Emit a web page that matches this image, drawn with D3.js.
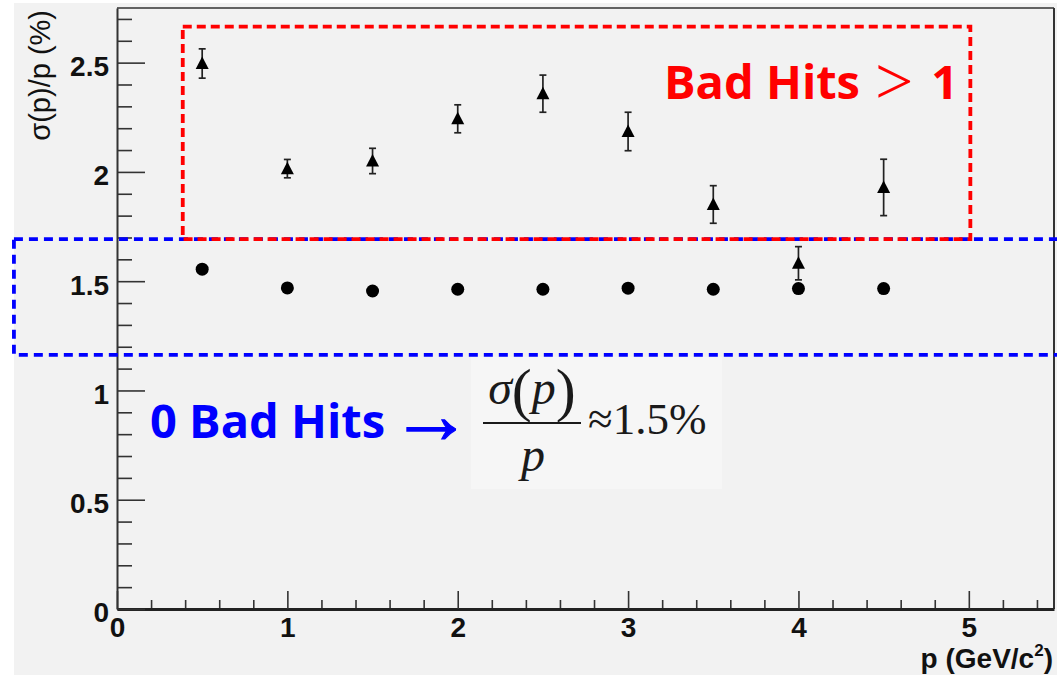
<!DOCTYPE html>
<html>
<head>
<meta charset="utf-8">
<script src="https://cdn.jsdelivr.net/npm/d3@7"></script>
<style>
  body { margin: 0; background: #ffffff; }
  svg { display: block; }
</style>
</head>
<body>
<svg id="chart" width="1057" height="675"></svg>
<script>
// Momentum bins (GeV/c^2)
const momentum = [0.5, 1.0, 1.5, 2.0, 2.5, 3.0, 3.5, 4.0, 4.5];
// Relative momentum resolution sigma(p)/p in %, tracks with 0 bad hits
const resolutionNoBadHits = [1.555, 1.469, 1.455, 1.463, 1.463, 1.468, 1.463, 1.466, 1.466];
// Relative momentum resolution sigma(p)/p in %, tracks with more than 1 bad hit
const resolutionBadHits = [2.496, 2.015, 2.050, 2.243, 2.358, 2.185, 1.851, 1.582, 1.929];
const resolutionBadHitsErr = [0.067, 0.042, 0.058, 0.064, 0.085, 0.088, 0.086, 0.076, 0.129];
// Axis tick labels
const xTickLabels = ["0", "1", "2", "3", "4", "5"];
const yTickLabels = ["0", "0.5", "1", "1.5", "2", "2.5"];

const svg = d3.select("#chart");
const W = 1057, H = 675;

const x = d3.scaleLinear().domain([0, 5.5]).range([117, 1054]);
const y = d3.scaleLinear().domain([0, 2.75]).range([609, 8]);

const axisFont = "'Liberation Sans', Arial, Helvetica, sans-serif";
const slideFont = "'Open Sans', 'DejaVu Sans', sans-serif";
const mathFont = "'Liberation Serif', 'Times New Roman', serif";

// Canvas background
svg.append("rect").attr("x", 14).attr("y", 3).attr("width", W - 14).attr("height", H - 3)
  .attr("fill", "#f2f2f2");

// Panel frame (top and right edges)
svg.append("line").attr("x1", x(0)).attr("x2", x(5.5)).attr("y1", y(2.75)).attr("y2", y(2.75))
  .attr("stroke", "#333").attr("stroke-width", 1.5);
svg.append("line").attr("x1", x(5.5)).attr("x2", x(5.5)).attr("y1", y(2.75)).attr("y2", y(0))
  .attr("stroke", "#333").attr("stroke-width", 2);

// Minor ticks
const xMinor = d3.range(0, 5.5, 0.2).filter(v => Math.abs(v - Math.round(v)) > 1e-6);
const yMinor = d3.range(0, 2.75, 0.1).filter(v => Math.abs(v * 2 - Math.round(v * 2)) > 1e-6);

svg.append("g").attr("transform", `translate(0,${y(0)})`)
  .call(d3.axisBottom(x).tickValues(xMinor).tickSizeInner(-9).tickSizeOuter(0).tickFormat(""))
  .call(g => g.select(".domain").remove())
  .call(g => g.selectAll("line").attr("stroke", "#333").attr("stroke-width", 1.6));

svg.append("g").attr("transform", `translate(${x(0)},0)`)
  .call(d3.axisLeft(y).tickValues(yMinor).tickSizeInner(-15).tickSizeOuter(0).tickFormat(""))
  .call(g => g.select(".domain").remove())
  .call(g => g.selectAll("line").attr("stroke", "#333").attr("stroke-width", 1.6));

// Major x axis
svg.append("g").attr("transform", `translate(0,${y(0)})`)
  .call(d3.axisBottom(x).tickValues(xTickLabels.map(Number)).tickSizeInner(-18).tickSizeOuter(0)
    .tickPadding(9).tickFormat((d, i) => xTickLabels[i]))
  .call(g => g.select(".domain").attr("stroke", "#222").attr("stroke-width", 3))
  .call(g => g.selectAll("line").attr("stroke", "#333").attr("stroke-width", 1.6))
  .call(g => g.selectAll("text").attr("fill", "#111").attr("font-family", axisFont)
    .attr("font-weight", "bold").attr("font-size", 28).attr("dy", "0.68em"));

// Major y axis
svg.append("g").attr("transform", `translate(${x(0)},0)`)
  .call(d3.axisLeft(y).tickValues(yTickLabels.map(Number)).tickSizeInner(-28).tickSizeOuter(0)
    .tickPadding(8).tickFormat((d, i) => yTickLabels[i]))
  .call(g => g.select(".domain").attr("stroke", "#333").attr("stroke-width", 2))
  .call(g => g.selectAll("line").attr("stroke", "#333").attr("stroke-width", 1.6))
  .call(g => g.selectAll("text").attr("fill", "#111").attr("font-family", axisFont)
    .attr("font-weight", "bold").attr("font-size", 28).attr("dy", "0.46em"));

// Axis titles
svg.append("text")
  .attr("transform", `translate(50,${y(2.75) + 2}) rotate(-90)`)
  .attr("text-anchor", "end")
  .attr("font-family", axisFont).attr("font-size", 29).attr("fill", "#111")
  .text("σ(p)/p (%)");

const xt = svg.append("text")
  .attr("x", 1053).attr("y", 668).attr("text-anchor", "end")
  .attr("font-family", axisFont).attr("font-weight", "bold").attr("font-size", 28).attr("fill", "#111");
xt.append("tspan").text("p (GeV/c");
xt.append("tspan").attr("font-size", 17).attr("dy", -12).text("2");
xt.append("tspan").attr("dy", 12).text(")");

// Formula backdrop
svg.append("rect").attr("x", 471).attr("y", 357).attr("width", 251).attr("height", 132)
  .attr("fill", "#f6f6f6");

// Series: 0 bad hits (circles)
svg.append("g").selectAll("circle")
  .data(momentum.map((m, i) => ({ m, v: resolutionNoBadHits[i] })))
  .join("circle")
  .attr("cx", d => x(d.m)).attr("cy", d => y(d.v)).attr("r", 6.5)
  .attr("fill", "#000");

// Series: > 1 bad hit (triangles with error bars)
const badData = momentum.map((m, i) => ({ m, v: resolutionBadHits[i], e: resolutionBadHitsErr[i] }));
const eb = svg.append("g").attr("stroke", "#222").attr("stroke-width", 1.7);
eb.selectAll("line.bar").data(badData).join("line").attr("class", "bar")
  .attr("x1", d => x(d.m)).attr("x2", d => x(d.m))
  .attr("y1", d => y(d.v - d.e)).attr("y2", d => y(d.v + d.e));
eb.selectAll("line.capTop").data(badData).join("line").attr("class", "capTop")
  .attr("x1", d => x(d.m) - 3.5).attr("x2", d => x(d.m) + 3.5)
  .attr("y1", d => y(d.v + d.e)).attr("y2", d => y(d.v + d.e));
eb.selectAll("line.capBot").data(badData).join("line").attr("class", "capBot")
  .attr("x1", d => x(d.m) - 3.5).attr("x2", d => x(d.m) + 3.5)
  .attr("y1", d => y(d.v - d.e)).attr("y2", d => y(d.v - d.e));

svg.append("g").selectAll("path").data(badData).join("path")
  .attr("d", d => {
    const cx = x(d.m), cy = y(d.v);
    return `M${cx},${cy - 7} L${cx + 6.5},${cy + 5.5} L${cx - 6.5},${cy + 5.5} Z`;
  })
  .attr("fill", "#000");

// Highlight boxes
const blueBox = { x0: -0.605, x1: 5.7, y0: 1.163, y1: 1.692 };
const redBox = { x0: 0.386, x1: 5.009, y0: 1.692, y1: 2.665 };

svg.append("rect")
  .attr("x", x(blueBox.x0)).attr("y", y(blueBox.y1))
  .attr("width", x(blueBox.x1) - x(blueBox.x0)).attr("height", y(blueBox.y0) - y(blueBox.y1))
  .attr("fill", "none").attr("stroke", "#0000ff").attr("stroke-width", 3.8)
  .attr("stroke-dasharray", "9,6");

svg.append("rect")
  .attr("x", x(redBox.x0)).attr("y", y(redBox.y1))
  .attr("width", x(redBox.x1) - x(redBox.x0)).attr("height", y(redBox.y0) - y(redBox.y1))
  .attr("fill", "none").attr("stroke", "#ff0000").attr("stroke-width", 3.8)
  .attr("stroke-dasharray", "9,5");

// Red label
svg.append("text").attr("x", 664).attr("y", 99)
  .attr("font-family", slideFont).attr("font-weight", "bold").attr("font-size", 47)
  .attr("fill", "#ff0000").text("Bad Hits");
svg.append("text").attr("x", 875).attr("y", 104)
  .attr("font-family", mathFont).attr("font-size", 68)
  .attr("fill", "#ff0000").text(">");
svg.append("text").attr("x", 958).attr("y", 99).attr("text-anchor", "end")
  .attr("font-family", slideFont).attr("font-weight", "bold").attr("font-size", 47)
  .attr("fill", "#ff0000").text("1");

// Blue label
svg.append("text").attr("x", 150).attr("y", 438)
  .attr("font-family", slideFont).attr("font-weight", "bold").attr("font-size", 47)
  .attr("fill", "#0000ff").text("0 Bad Hits");
svg.append("text").attr("x", 390).attr("y", 443)
  .attr("font-family", mathFont).attr("font-size", 82)
  .attr("fill", "#0000ff").attr("stroke", "#0000ff").attr("stroke-width", 1.2)
  .text("→");

// Resolution formula
const formulaColor = "#1a1a1a";
const num = svg.append("text").attr("x", 532).attr("y", 404).attr("text-anchor", "middle")
  .attr("font-family", mathFont).attr("font-size", 48).attr("fill", formulaColor);
num.append("tspan").attr("font-style", "italic").text("σ");
num.append("tspan").attr("font-size", 60).attr("dy", 6).text("(");
num.append("tspan").attr("font-style", "italic").attr("dy", -6).text("p");
num.append("tspan").attr("font-size", 60).attr("dy", 6).text(")");
svg.append("line").attr("x1", 483).attr("x2", 581).attr("y1", 423).attr("y2", 423)
  .attr("stroke", formulaColor).attr("stroke-width", 2);
svg.append("text").attr("x", 533).attr("y", 471).attr("text-anchor", "middle")
  .attr("font-family", mathFont).attr("font-style", "italic").attr("font-size", 48)
  .attr("fill", formulaColor).text("p");
svg.append("text").attr("x", 588).attr("y", 434)
  .attr("font-family", mathFont).attr("font-size", 45).attr("fill", formulaColor)
  .text("≈1.5%");
</script>
</body>
</html>
